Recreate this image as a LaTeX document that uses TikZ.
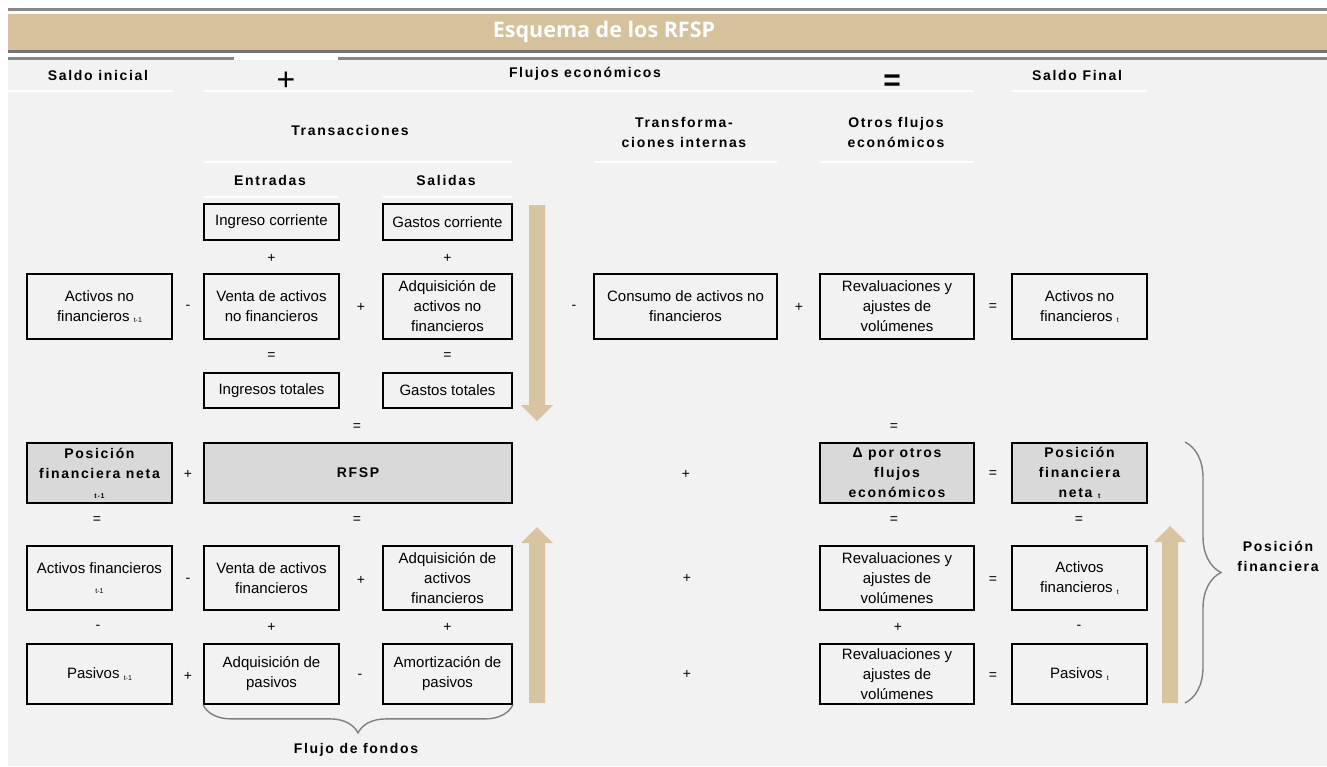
\documentclass[tikz,border=0pt]{standalone}
\usepackage{fontspec}
\setmainfont{Liberation Sans}
\newfontfamily\hdfont{Liberation Sans}[LetterSpace=12]
\newfontfamily\titlefont{Open Sans}
\usetikzlibrary{decorations.pathreplacing}
\definecolor{tanband}{RGB}{214,193,157}
\definecolor{tanarrow}{RGB}{216,196,160}
\definecolor{bggray}{RGB}{242,242,242}
\definecolor{linegray}{RGB}{135,135,135}
\definecolor{shadebox}{RGB}{217,217,217}
\definecolor{bracegray}{RGB}{128,128,128}
\newcommand\sbs[1]{\raisebox{-1.5pt}{\fontsize{7}{8}\selectfont #1}}
\newcommand\tinyl[1]{{\fontsize{7}{8}\selectfont #1}}
\begin{document}
\begin{tikzpicture}[x=1pt,y=-1pt,
  box/.style={draw=black, line width=1.8pt, align=center, inner sep=0pt, font=\fontsize{15}{20}\selectfont},
  bbox/.style={box, fill=shadebox, font=\hdfont\bfseries\fontsize{14}{20}\selectfont},
  op/.style={font=\fontsize{14}{16}\selectfont, inner sep=0pt},
  hd/.style={font=\hdfont\bfseries\fontsize{14}{20}\selectfont, align=center, inner sep=0pt},
  wline/.style={draw=white, line width=2.5pt},
  gline/.style={draw=linegray, line width=3pt},
  tarrow/.style={fill=tanarrow, draw=none},
  brc/.style={draw=bracegray, line width=1.4pt, decorate, decoration={brace, amplitude=#1}}
]
\useasboundingbox (0,0) rectangle (1327,766);
\fill[white] (0,0) rectangle (1327,766);
% background and header band
\fill[bggray] (8,60) rectangle (1327,766);
\draw[gline] (8,9.5) -- (1327,9.5);
\fill[tanband] (8,14) rectangle (1327,49.5);
\draw[gline, draw=linegray!85!black] (8,51.5) -- (1327,51.5);
\draw[gline] (8,58.5) -- (1327,58.5);
\draw[wline] (234,58.5) -- (338,58.5);
\node[font=\titlefont\bfseries\fontsize{21.5}{22}\selectfont, text=white, inner sep=0pt] (title) at (604,32) {Esquema de los RFSP};

% header rows
\node[hd] (si) at (98,75) {Saldo inicial};
\node[font=\fontsize{32}{32}\selectfont, inner sep=0pt] (bigplus) at (286,81) {+};
\node[hd] (fe) at (585,74) {Flujos económicos};
\node[font=\bfseries\fontsize{30}{30}\selectfont, inner sep=0pt] (bigeq) at (892,83) {=};
\node[hd] (sf) at (1077,75) {Saldo Final};
\draw[wline] (8,91) -- (173,91);
\draw[wline] (204,91) -- (974,91);
\draw[wline] (1012,91) -- (1147,91);

\node[hd] (tr) at (350,130) {Transacciones};
\node[hd] (ti) at (684,132) {Transforma-\\ciones internas};
\node[hd] (of) at (896,132) {Otros flujos\\económicos};
\draw[wline] (204,162) -- (512,162);
\draw[wline] (594,162) -- (777,162);
\draw[wline] (820,162) -- (974,162);

\node[hd] (en) at (270,180) {Entradas};
\node[hd] (sa) at (446,180) {Salidas};
\draw[wline] (204,197) -- (338,197);
\draw[wline] (383,197) -- (512,197);

% arrows
\fill[tarrow] (529,205) -- (545,205) -- (545,405) -- (553,405) -- (537,421) -- (521,405) -- (529,405) -- cycle;
\fill[tarrow] (529,703) -- (545,703) -- (545,543) -- (553,543) -- (537,527) -- (521,543) -- (529,543) -- cycle;
\fill[tarrow] (1162,703) -- (1178,703) -- (1178,542) -- (1186,542) -- (1170,526) -- (1154,542) -- (1162,542) -- cycle;

% row 1
\node[box, minimum width=135, minimum height=36] (ic) at (271.5,222) {Ingreso corriente};
\node[box, minimum width=129, minimum height=36] (gc) at (447.5,222) {Gastos corriente};
\node[op] (p1b) at (271.5,258) {+};
\node[op] (p1c) at (447.5,258) {+};

% row 2
\node[box, minimum width=145, minimum height=65] (anf0) at (99.5,306.5) {Activos no\\financieros \sbs{t-1}};
\node[op] (o2a) at (188,307) {-};
\node[box, minimum width=135, minimum height=65] (vanf) at (271.5,306.5) {Venta de activos\\no financieros};
\node[op] (o2b) at (361,307) {+};
\node[box, minimum width=129, minimum height=65] (aanf) at (447.5,306.5) {Adquisición de\\activos no\\financieros};
\node[op] (o2c) at (574,307) {-};
\node[box, minimum width=183, minimum height=65] (canf) at (685.5,306.5) {Consumo de activos no\\financieros};
\node[op] (o2d) at (799,307) {+};
\node[box, minimum width=154, minimum height=65] (rv1) at (897,306.5) {Revaluaciones y\\ajustes de\\volúmenes};
\node[op] (o2e) at (993,307) {=};
\node[box, minimum width=135, minimum height=65] (anf1) at (1079.5,306.5) {Activos no\\financieros \sbs{t}};
\node[op] (e2b) at (271.5,356) {=};
\node[op] (e2c) at (447.5,356) {=};

% row 3
\node[box, minimum width=135, minimum height=35] (it) at (271.5,390.5) {Ingresos totales};
\node[box, minimum width=129, minimum height=35] (gt) at (447.5,390.5) {Gastos totales};
\node[op] (e3b) at (357,427) {=};
\node[op] (e3e) at (894,427) {=};

% row 4
\node[bbox, minimum width=145, minimum height=60] (pfn0) at (99.5,473) {Posición\\financiera neta\\\tinyl{t-1}};
\node[op] (o4a) at (188,474) {+};
\node[bbox, minimum width=308, minimum height=60] (rfsp) at (358,473) {RFSP};
\node[op] (o4d) at (686,474) {+};
\node[bbox, minimum width=154, minimum height=60] (dot) at (897,473) {Δ por otros\\flujos\\económicos};
\node[op] (o4e) at (993,474) {=};
\node[bbox, minimum width=135, minimum height=60] (pfn1) at (1079.5,473) {Posición\\financiera\\neta \sbs{t}};
\node[op] (e4a) at (97,520) {=};
\node[op] (e4b) at (357,520) {=};
\node[op] (e4e) at (894,520) {=};
\node[op] (e4f) at (1079,520) {=};

% row 5
\node[box, minimum width=145, minimum height=64] (af0) at (99.5,578) {Activos financieros\\\tinyl{t-1}};
\node[op] (o5a) at (188,580) {-};
\node[box, minimum width=135, minimum height=64] (vaf) at (271.5,578) {Venta de activos\\financieros};
\node[op] (o5b) at (361,580) {+};
\node[box, minimum width=129, minimum height=64] (aaf) at (447.5,578) {Adquisición de\\activos\\financieros};
\node[op] (o5d) at (687,578) {+};
\node[box, minimum width=154, minimum height=64] (rv2) at (897,578) {Revaluaciones y\\ajustes de\\volúmenes};
\node[op] (o5e) at (993,580) {=};
\node[box, minimum width=135, minimum height=64] (af1) at (1079.5,578) {Activos\\financieros \sbs{t}};
\node[op] (e5a) at (98,627) {-};
\node[op] (e5b) at (271.5,627) {+};
\node[op] (e5c) at (447.5,627) {+};
\node[op] (e5e) at (898,627) {+};
\node[op] (e5f) at (1079,627) {-};

% row 6
\node[box, minimum width=145, minimum height=60] (pas0) at (99.5,674) {Pasivos \sbs{t-1}};
\node[op] (o6a) at (188,676) {+};
\node[box, minimum width=135, minimum height=60] (ap) at (271.5,674) {Adquisición de\\pasivos};
\node[op] (o6b) at (360,676) {-};
\node[box, minimum width=129, minimum height=60] (amp) at (447.5,674) {Amortización de\\pasivos};
\node[op] (o6d) at (687,674) {+};
\node[box, minimum width=154, minimum height=60] (rv3) at (897,674) {Revaluaciones y\\ajustes de\\volúmenes};
\node[op] (o6e) at (993,676) {=};
\node[box, minimum width=135, minimum height=60] (pas1) at (1079.5,674) {Pasivos \sbs{t}};

% braces
\draw[brc=28] (amp.south east) -- (ap.south west);
\node[hd] (ff) at (356,750) {Flujo de fondos};
\coordinate (rbt) at (1185,442);
\coordinate (rbb) at (1185,703);
\draw[brc=36] (rbt) -- (rbb);
\node[hd] (pf) at (1278,556) {Posición\\financiera};
\end{tikzpicture}
\end{document}
